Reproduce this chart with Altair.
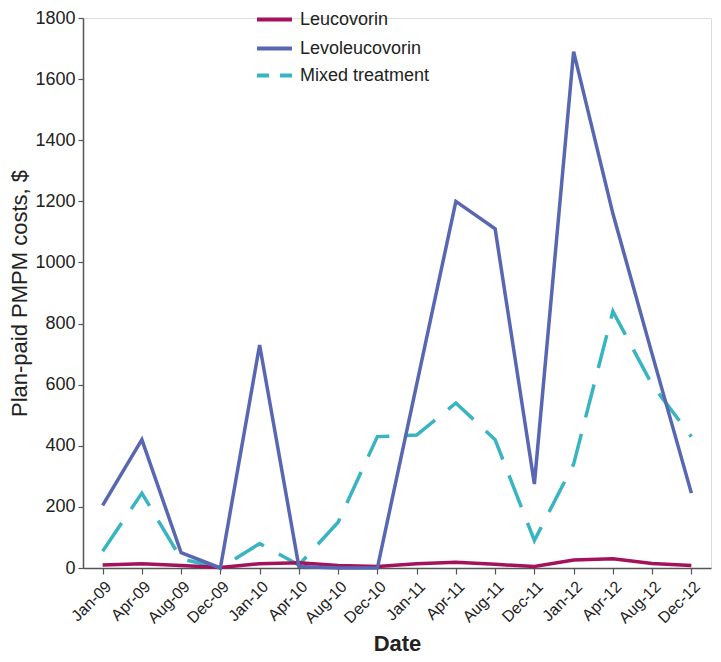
import altair as alt
import pandas as pd

dates = ["Jan-09", "Apr-09", "Aug-09", "Dec-09", "Jan-10", "Apr-10", "Aug-10", "Dec-10",
         "Jan-11", "Apr-11", "Aug-11", "Dec-11", "Jan-12", "Apr-12", "Aug-12", "Dec-12"]
leucovorin = [10, 14, 8, 2, 14, 17, 8, 5, 14, 19, 12, 5, 26, 30, 15, 8]
levoleucovorin = [205, 420, 50, 0, 730, 5, 0, 0, 600, 1200, 1110, 275, 1690, 1160, 700, 245]
mixed = [55, 245, 30, 0, 80, 10, 150, 430, 435, 540, 420, 90, 340, 840, 600, 430]
series = ["Leucovorin", "Levoleucovorin", "Mixed treatment"]
colors = ["#A3135D", "#5867B1", "#39B4C2"]

rows = []
for name, vals in zip(series, [leucovorin, levoleucovorin, mixed]):
    for d, v in zip(dates, vals):
        rows.append({"Date": d, "Cost": v, "Series": name})
df = pd.DataFrame(rows)

FONT = "Liberation Sans"

x_enc = alt.X("Date:N", sort=dates, title="Date",
              scale=alt.Scale(paddingInner=0, paddingOuter=0),
              axis=alt.Axis(labelAngle=-45, bandPosition=0, tickSize=6, grid=False,
                            labelFontSize=16, titleFontSize=22, titleFontWeight="bold",
                            titlePadding=8, labelPadding=4))
y_enc = alt.Y("Cost:Q", title="Plan-paid PMPM costs, $",
              scale=alt.Scale(domain=[0, 1800], nice=False),
              axis=alt.Axis(values=list(range(0, 1801, 200)), format="d", tickSize=5,
                            grid=False, labelFontSize=18, titleFontSize=22,
                            titleFontWeight="normal", titlePadding=3, labelPadding=3))

legend_common = dict(title=None, orient="none", legendX=172,
                     symbolType="stroke", symbolSize=1225, symbolStrokeWidth=4,
                     labelFontSize=18, labelOffset=6, rowPadding=-7, labelColor="#222")

solid = alt.Chart(df).transform_filter(
    alt.FieldOneOfPredicate(field="Series", oneOf=series[:2])
).mark_line(strokeWidth=3.5).encode(
    x=x_enc, y=y_enc,
    color=alt.Color("Series:N", sort=series[:2],
                    scale=alt.Scale(domain=series[:2], range=colors[:2]),
                    legend=alt.Legend(legendY=-18, **legend_common)),
)

dashed = alt.Chart(df).transform_filter(
    alt.FieldEqualPredicate(field="Series", equal=series[2])
).mark_line(strokeWidth=3.5, strokeDash=[34, 17]).encode(
    x=x_enc, y=y_enc,
    color=alt.Color("Series:N",
                    scale=alt.Scale(domain=series[2:], range=colors[2:]),
                    legend=alt.Legend(legendY=38, symbolDash=[12, 11], **legend_common)),
)

chart = alt.layer(dashed, solid).resolve_scale(color="independent").resolve_legend(
    color="independent"
).properties(
    width=628, height=550,
    padding={"left": 75, "top": 10, "right": 2, "bottom": 92},
    autosize=alt.AutoSizeParams(type="none"),
).configure_view(stroke=None).configure(font=FONT).configure_axis(
    domainColor="#555", tickColor="#555", labelColor="#222", titleColor="#222",
    labelFont=FONT, titleFont=FONT, domainWidth=1.5, tickWidth=1.2
).configure_legend(labelFont=FONT)

chart.save("out.html", embed_options={"renderer": "svg", "actions": False})
